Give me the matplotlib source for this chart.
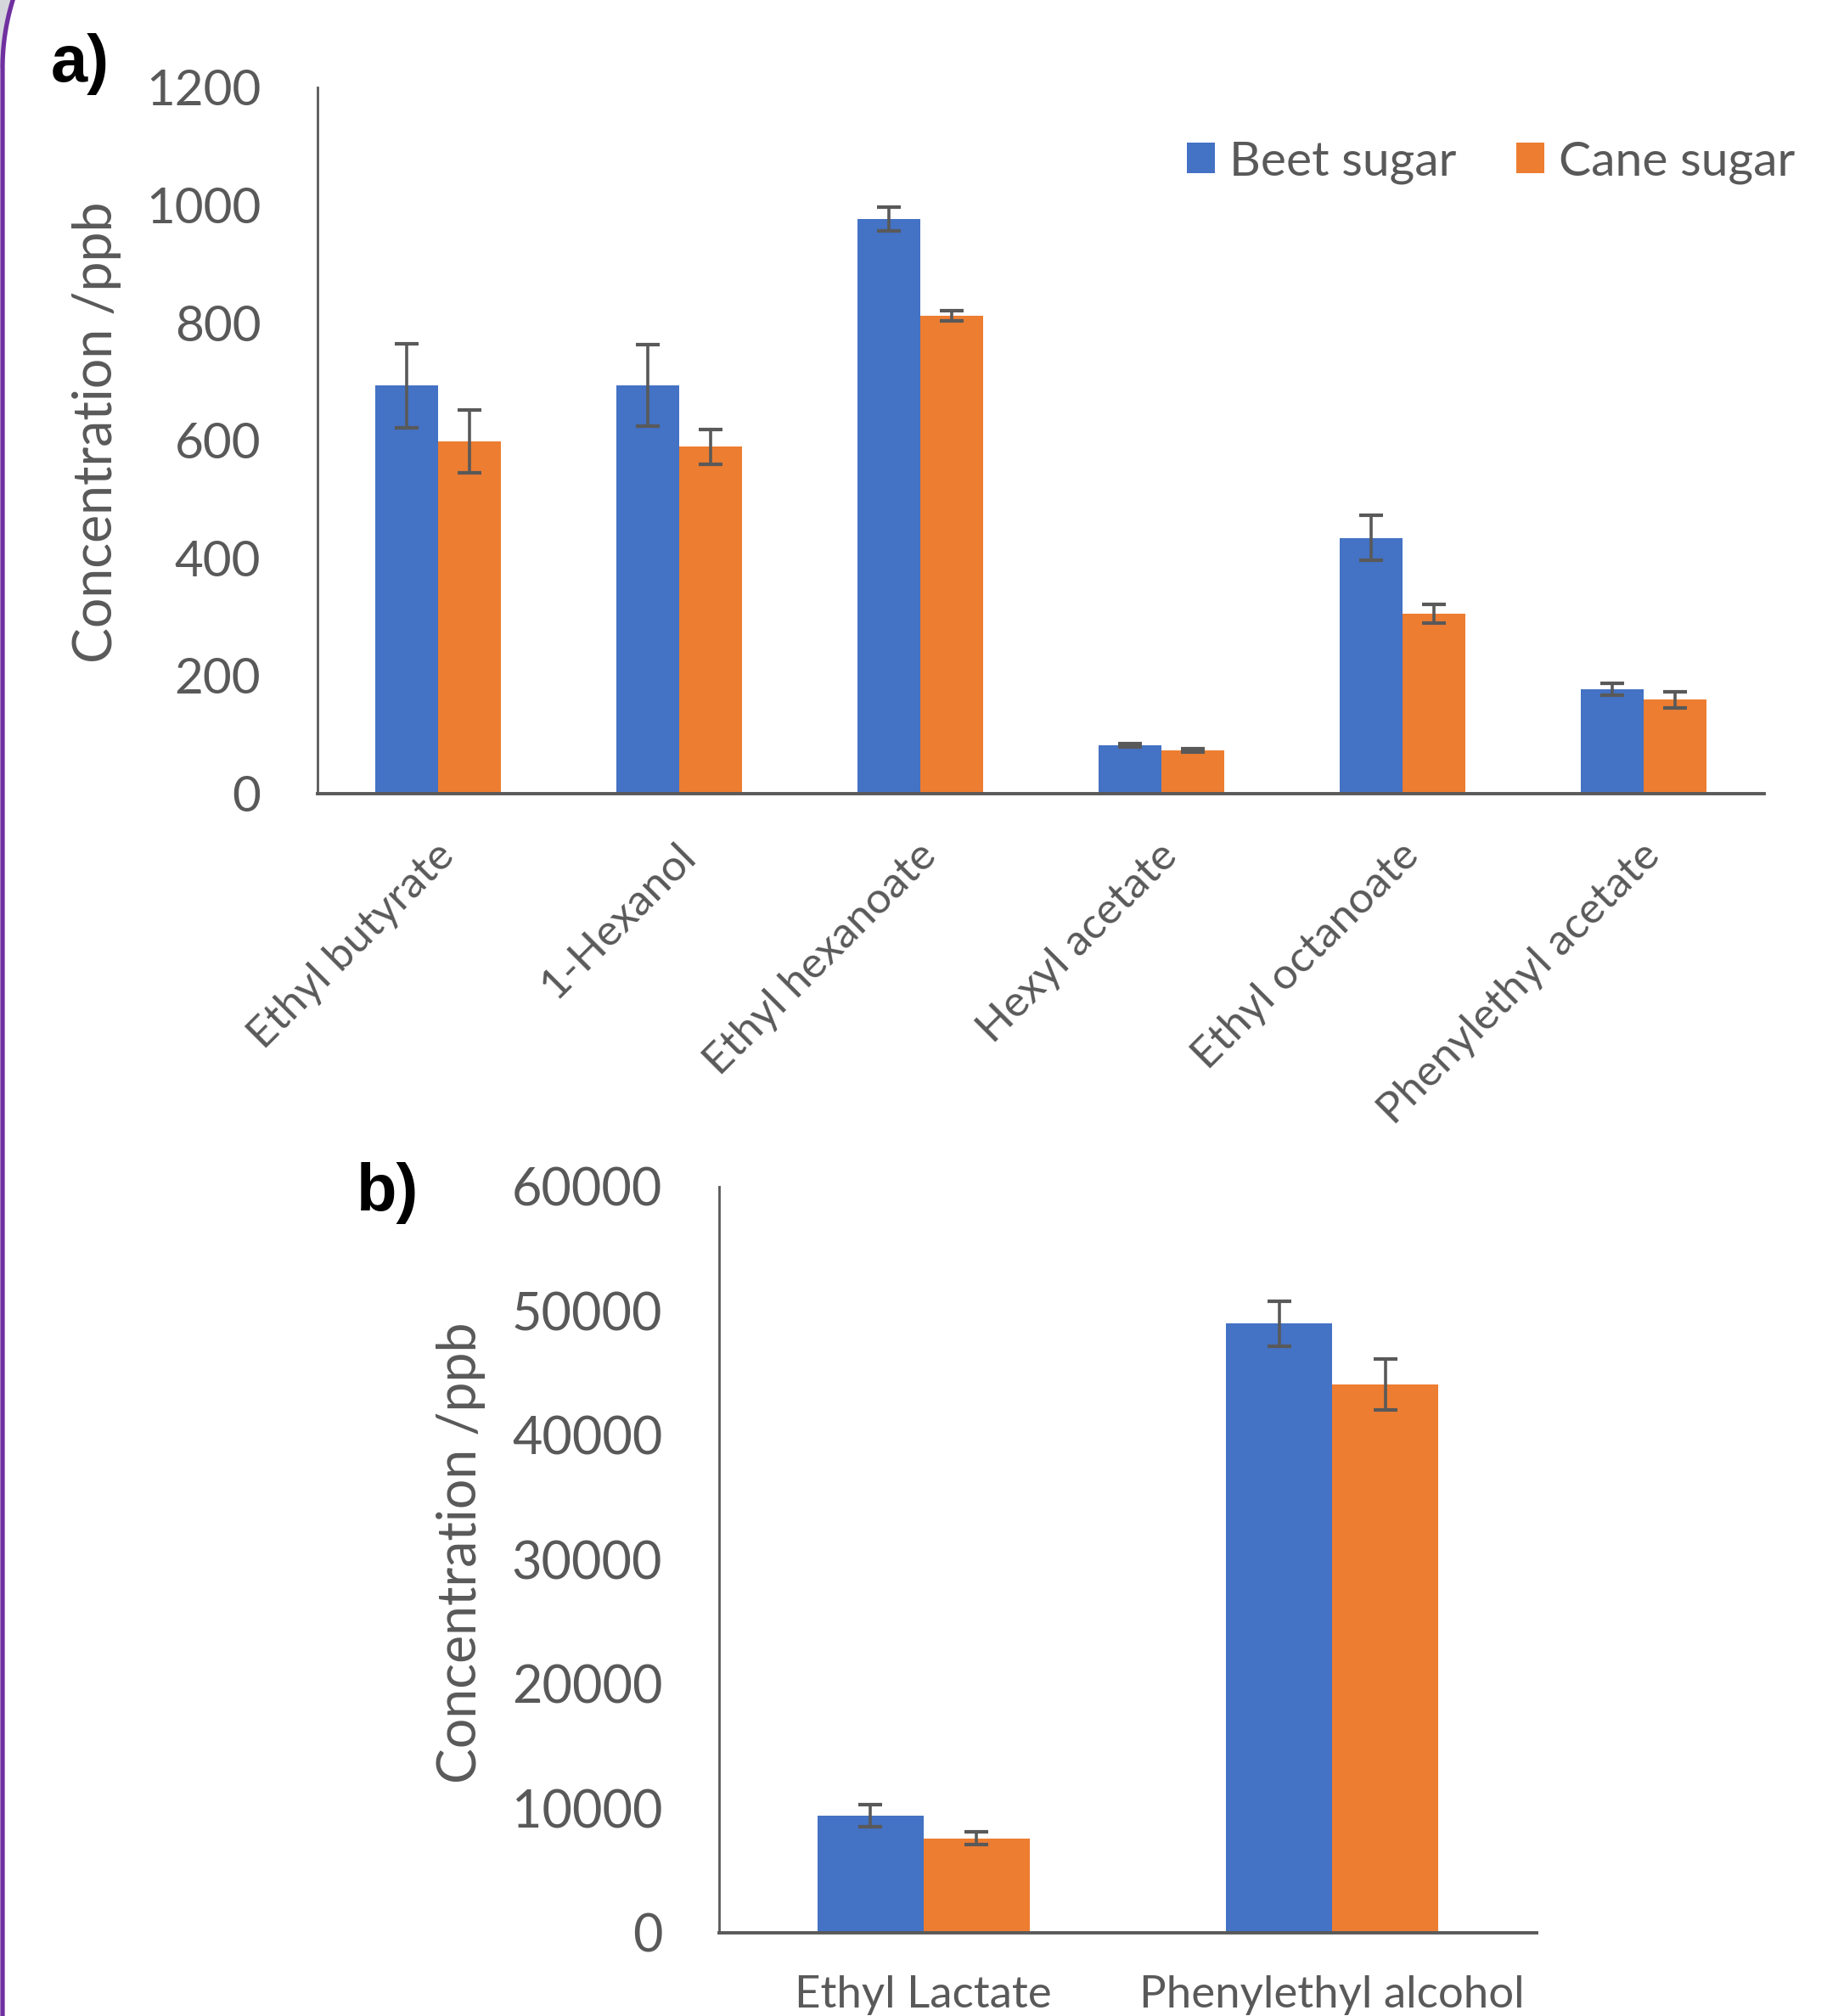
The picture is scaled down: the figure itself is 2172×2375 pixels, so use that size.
import numpy as np
import matplotlib
matplotlib.use("Agg")
import matplotlib.pyplot as plt
import matplotlib.transforms as mtransforms
from matplotlib.patches import Polygon
from matplotlib.lines import Line2D

# a) minor volatiles, ppb
compounds_a = ["Ethyl butyrate", "1-Hexanol", "Ethyl hexanoate",
               "Hexyl acetate", "Ethyl octanoate", "Phenylethyl acetate"]
beet_a = [693, 693, 976, 82, 434, 177]
beet_a_err = [71, 69, 20, 3, 38, 10]
cane_a = [598, 589, 812, 73, 305, 159]
cane_a_err = [53, 30, 9, 3, 16, 14]

# b) major volatiles, ppb
compounds_b = ["Ethyl Lactate", "Phenylethyl alcohol"]
beet_b = [9400, 49000]
beet_b_err = [900, 1800]
cane_b = [7600, 44100]
cane_b_err = [500, 2050]

series_names = ["Beet sugar", "Cane sugar"]

BLUE = "#4472C4"
ORANGE = "#ED7D31"
GREY = "#595959"
PURPLE = "#7030A0"

W, H = 2172, 2375
plt.rcParams["font.family"] = ["Lato", "DejaVu Sans"]

fig = plt.figure(figsize=(W / 100, H / 100), dpi=100)


def draw_panel(ax, names, beet, beet_err, cane, cane_err, ymax, ystep,
               tick_size, cat_size, rotate):
    x = np.arange(len(names))
    w = 0.26
    err_kw = dict(ecolor=GREY, elinewidth=2.6, capsize=10, capthick=3)
    b1 = ax.bar(x - w / 2, beet, w, color=BLUE, yerr=beet_err,
                error_kw=err_kw, zorder=2)
    b2 = ax.bar(x + w / 2, cane, w, color=ORANGE, yerr=cane_err,
                error_kw=err_kw, zorder=2)
    ax.set_xlim(-0.5, len(names) - 0.5)
    ax.set_ylim(0, ymax)
    ax.set_yticks(np.arange(0, ymax + 1, ystep))
    ax.set_xticks(x)
    for s in ["top", "right"]:
        ax.spines[s].set_visible(False)
    ax.spines["left"].set_color(GREY)
    ax.spines["left"].set_linewidth(2.0)
    ax.spines["bottom"].set_color(GREY)
    ax.spines["bottom"].set_linewidth(2.8)
    ax.spines["bottom"].set_zorder(3)
    ax.tick_params(axis="y", length=0, pad=48, labelsize=tick_size,
                   labelcolor=GREY)
    ax.tick_params(axis="x", length=0, labelcolor=GREY)
    if rotate:
        ax.set_xticklabels(names, rotation=45, ha="right", fontsize=cat_size)
        ax.tick_params(axis="x", pad=36)
        # slanted names sit a little right of the group centre
        shift = mtransforms.ScaledTranslation(0.28, 0, fig.dpi_scale_trans)
        for lbl in ax.get_xticklabels():
            lbl.set_transform(lbl.get_transform() + shift)
    else:
        ax.set_xticklabels(names, fontsize=cat_size)
        ax.tick_params(axis="x", pad=36)
    ax.set_facecolor("none")
    return b1, b2


ax_a = fig.add_axes([374 / W, 1 - 934.5 / H, 1704 / W, 831.5 / H])
bars = draw_panel(ax_a, compounds_a, beet_a, beet_a_err, cane_a, cane_a_err,
                  1200, 200, 42, 37, True)

ax_b = fig.add_axes([847 / W, 1 - 2277 / H, 963 / W, 879 / H])
draw_panel(ax_b, compounds_b, beet_b, beet_b_err, cane_b, cane_b_err,
           60000, 10000, 44, 38, False)

fig.legend([bars[0], bars[1]], series_names, loc="center",
           bbox_to_anchor=(0.8085, 0.9196), ncol=2, frameon=False,
           fontsize=41, labelcolor=GREY, handlelength=0.58,
           handleheight=0.58, handletextpad=0.3, columnspacing=1.25,
           borderpad=0)

fig.text(114 / W, 1 - 509 / H, "Concentration /ppb", rotation=90,
         ha="center", va="center", fontsize=45, color=GREY)
fig.text(543 / W, 1 - 1829 / H, "Concentration /ppb", rotation=90,
         ha="center", va="center", fontsize=45, color=GREY)

fig.text(60 / W, 1 - 75 / H, "a)", ha="left", va="center", fontsize=56,
         fontweight="bold", family="Liberation Sans", color="black")
fig.text(420 / W, 1 - 1406 / H, "b)", ha="left", va="center", fontsize=56,
         fontweight="bold", family="Liberation Sans", color="black")

# rounded corner of the surrounding frame
R, cx, cy = 270.0, 273.0, 80.0
phi = np.linspace(np.radians(22), 0, 60)
arc_x = cx - R * np.cos(phi)
arc_y = cy - R * np.sin(phi)
shade = np.column_stack([np.r_[arc_x, 0, 0], np.r_[arc_y, cy, arc_y[0]]])
fig.patches.append(Polygon(np.column_stack([shade[:, 0] / W, 1 - shade[:, 1] / H]),
                           closed=True, transform=fig.transFigure,
                           facecolor="#d5d6db", edgecolor="none"))
edge_x = np.r_[arc_x, cx - R, cx - R]
edge_y = np.r_[arc_y, cy, H + 10]
fig.lines.append(Line2D(edge_x / W, 1 - edge_y / H, transform=fig.transFigure,
                        color=PURPLE, linewidth=3.8))

fig.savefig("out.png", dpi=100)
